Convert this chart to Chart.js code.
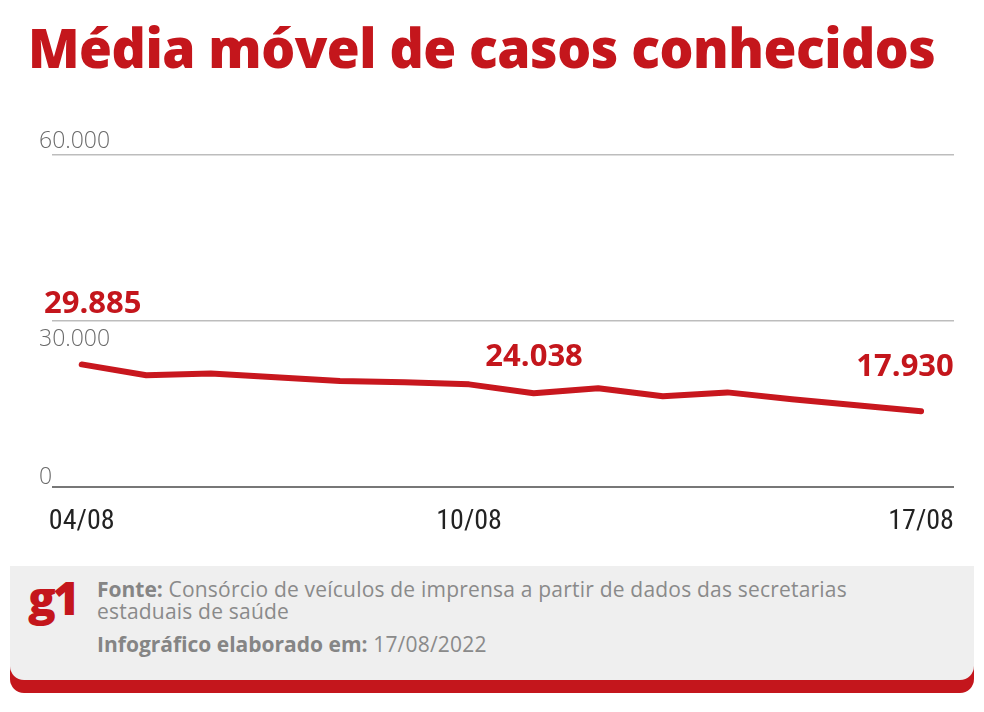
<!DOCTYPE html>
<html lang="pt-BR">
<head>
<meta charset="UTF-8">
<title>Média móvel de casos conhecidos</title>
<script src="https://cdn.jsdelivr.net/npm/chart.js"></script>
<style>
  html, body { margin: 0; padding: 0; background: #fff; }
  body { width: 984px; height: 712px; position: relative; overflow: hidden; font-family: 'Open Sans', sans-serif; }
  #title { position: absolute; left: 28px; top: 10px; font-family: 'Open Sans', sans-serif; font-weight: 800;
           font-size: 54px; color: #c4161c; white-space: nowrap; transform-origin: left top; letter-spacing: -0.5px; }
  #chart-box { position: absolute; left: 0; top: 100px; width: 984px; height: 457px; }
  #footer-red { position: absolute; left: 10px; top: 592px; width: 964px; height: 101px; background: #c4161c; border-radius: 0 0 14px 14px; }
  #footer { position: absolute; left: 10px; top: 566px; width: 964px; height: 114px; background: #efefef; border-radius: 0 0 14px 14px; }
  #logo { position: absolute; left: 18px; top: 8px; font-family: 'Open Sans', sans-serif; font-weight: 800; font-size: 46px;
          color: #c4161c; letter-spacing: -3px; line-height: 1; }
  #source { position: absolute; left: 87px; top: 12px; width: 805px; font-size: 21px; letter-spacing: 0.2px; line-height: 22px; color: #8a8a8a; }
  #source b { font-weight: 700; color: #858585; letter-spacing: 0; }
  #made { position: absolute; left: 87px; top: 64px; font-size: 21px; letter-spacing: 0.2px; color: #8a8a8a; }
  #made b { font-weight: 700; color: #858585; letter-spacing: 0; }
</style>
</head>
<body>
<div id="title">Média móvel de casos conhecidos</div>
<div id="chart-box"><canvas id="casesChart"></canvas></div>
<div id="footer-red"></div>
<div id="footer">
  <div id="logo">g1</div>
  <div id="source"><b>Fonte:</b> Consórcio de veículos de imprensa a partir de dados das secretarias estaduais de saúde</div>
  <div id="made"><b>Infográfico elaborado em:</b> 17/08/2022</div>
</div>

<script>
// dates 04/08 .. 17/08
const dates = ['04/08', '05/08', '06/08', '07/08', '08/08', '09/08', '10/08',
               '11/08', '12/08', '13/08', '14/08', '15/08', '16/08', '17/08'];
// moving average as drawn on the reference line
const movingAvg = [22200, 20250, 20550, 19900, 19200, 18980, 18600,
                   17000, 17900, 16450, 17150, 15900, 14820, 13750];
// dates shown under the axis
const shownDates = ['04/08', '10/08', '17/08'];
// y axis ticks
const yTicks = [0, 30000, 60000];
// value callouts printed over the line
const calloutIndex = [0, 6, 13];
const calloutText = ['29.885', '24.038', '17.930'];

// fit the title to the reference width
const title = document.getElementById('title');
title.style.transform = 'scaleX(' + (907 / title.scrollWidth) + ')';

const fmt = v => v.toLocaleString('pt-BR');

const labelPlugin = {
  id: 'labels',
  afterDraw(chart) {
    const ctx = chart.ctx;
    const ys = chart.scales.y;
    ctx.save();
    // y tick labels next to their grid lines (30.000 sits below its line)
    ctx.font = '300 23px "Open Sans", sans-serif';
    ctx.fillStyle = '#6b6b6b';
    ctx.textAlign = 'left';
    ctx.textBaseline = 'alphabetic';
    yTicks.forEach(v => {
      const dy = v === 30000 ? 25 : (v === 0 ? -3 : -7);
      ctx.fillText(fmt(v), 39, ys.getPixelForValue(v) + dy);
    });
    // red callouts
    const pts = chart.getDatasetMeta(0).data;
    const shift = [[11, 51], [65, 18], [-16, 35]];
    ctx.font = '700 31px "Open Sans", sans-serif';
    ctx.fillStyle = '#c4161c';
    ctx.textAlign = 'center';
    calloutIndex.forEach((idx, i) => {
      const p = pts[idx];
      ctx.fillText(calloutText[i], p.x + shift[i][0], p.y - shift[i][1]);
    });
    ctx.restore();
  }
};

new Chart(document.getElementById('casesChart'), {
  type: 'line',
  data: {
    datasets: [{
      data: movingAvg.map((v, i) => ({ x: i, y: v })),
      borderColor: '#c8171e',
      borderWidth: 6,
      pointRadius: 0,
      tension: 0,
      borderCapStyle: 'round',
      borderJoinStyle: 'round'
    }]
  },
  options: {
    responsive: true,
    maintainAspectRatio: false,
    animation: false,
    layout: { padding: { left: 52, right: 30, top: 55, bottom: 8 } },
    plugins: { legend: { display: false }, tooltip: { enabled: false } },
    scales: {
      x: {
        type: 'linear',
        min: -0.46,
        max: 13.51,
        grid: { display: false },
        border: { display: false },
        afterBuildTicks: axis => {
          axis.ticks = shownDates.map(d => ({ value: dates.indexOf(d) }));
        },
        ticks: {
          padding: 10,
          color: '#222',
          font: { family: '"Liberation Sans Narrow", "Roboto Condensed", sans-serif', size: 28 },
          callback: v => dates[v]
        }
      },
      y: {
        min: 0,
        max: 60000,
        afterBuildTicks: axis => {
          axis.ticks = yTicks.map(v => ({ value: v }));
        },
        ticks: { display: false },
        border: { display: false },
        grid: {
          drawTicks: false,
          color: c => c.tick.value === 0 ? '#777' : '#bdbdbd',
          lineWidth: c => c.tick.value === 0 ? 2 : 1.5
        }
      }
    }
  },
  plugins: [labelPlugin]
});
</script>
</body>
</html>
